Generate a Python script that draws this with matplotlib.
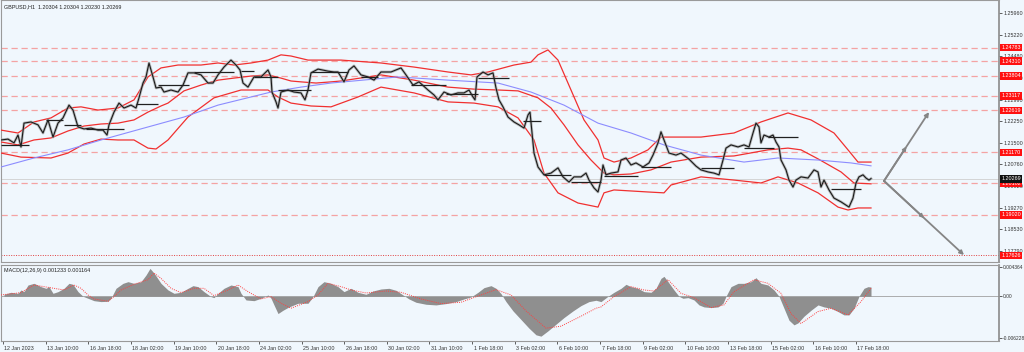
import matplotlib
matplotlib.use("Agg")
import matplotlib.pyplot as plt
import matplotlib.transforms as mtransforms
from matplotlib import font_manager
import numpy as np

_names = {f.name for f in font_manager.fontManager.ttflist}
if 'Liberation Sans Narrow' in _names:
    FONT, FS = 'Liberation Sans Narrow', 4.6
else:
    FONT, FS = 'Liberation Sans', 3.9
plt.rcParams['font.family'] = [FONT, 'DejaVu Sans']

# ---------------- data ----------------
symbol_title = "GBPUSD,H1  1.20304 1.20304 1.20230 1.20269"
macd_title = "MACD(12,26,9) 0.001233 0.001164"

x_labels = ["12 Jan 2023", "13 Jan 10:00", "16 Jan 18:00", "18 Jan 02:00", "19 Jan 10:00",
            "20 Jan 18:00", "24 Jan 02:00", "25 Jan 10:00", "26 Jan 18:00", "30 Jan 02:00",
            "31 Jan 10:00", "1 Feb 18:00", "3 Feb 02:00", "6 Feb 10:00", "7 Feb 18:00",
            "9 Feb 02:00", "10 Feb 10:00", "13 Feb 18:00", "15 Feb 02:00", "16 Feb 10:00",
            "17 Feb 18:00"]

price_ticks = [1.25960, 1.25220, 1.24480, 1.23730, 1.22990, 1.22250, 1.21500,
               1.20760, 1.20020, 1.19270, 1.18530, 1.17790]
level_prices = [1.24783, 1.24310, 1.23804, 1.23117, 1.22619, 1.21170, 1.20102, 1.19020]
bottom_level = 1.17626
last_price = 1.20269
macd_ticks = [0.004364, 0.0, -0.006228]
macd_tick_labels = ["0.004364", "0.00", "-0.006228"]

# price path (time position, close)
close_x = [0, 7, 13, 17, 20, 23, 30, 37, 42, 47, 52, 57, 62, 68, 72, 77, 83, 90, 97, 102,
           106, 108, 113, 118, 123, 130, 135, 138, 142, 145, 148, 152, 155, 160, 163, 170, 177,
           182, 187, 193, 200, 207, 212, 217, 223, 230, 235, 239, 242, 247, 253, 260, 267, 270,
           271, 275, 277, 280, 287, 293, 300, 304, 307, 310, 317, 327, 333, 337, 343, 348, 353,
           360, 367, 373, 380, 390, 400, 405, 412, 418, 427, 433, 437, 443, 450, 457, 463, 468,
           472, 474, 476, 482, 487, 492, 495, 498, 502, 507, 513, 518, 523, 527, 529, 531, 533,
           537, 543, 550, 557, 562, 568, 573, 580, 585, 588, 593, 597, 600, 602, 605, 610, 617,
           620, 625, 630, 635, 642, 648, 652, 657, 660, 663, 668, 675, 680, 688, 695, 700, 707,
           713, 718, 722, 725, 730, 737, 743, 748, 752, 755, 758, 760, 763, 768, 772, 775, 778,
           780, 785, 788, 792, 795, 800, 807, 813, 817, 820, 823, 828, 833, 840, 845, 848, 852,
           855, 858, 862, 865, 868, 870]
close_p = [1.2160, 1.2163, 1.2150, 1.2177, 1.2136, 1.2218, 1.2222, 1.2212, 1.2184, 1.2229,
           1.2170, 1.2218, 1.2236, 1.2280, 1.2263, 1.2205, 1.2198, 1.2201, 1.2194, 1.2194,
           1.2177, 1.2212, 1.2256, 1.2287, 1.2270, 1.2280, 1.2270, 1.2305, 1.2356, 1.2377,
           1.2425, 1.2377, 1.2339, 1.2342, 1.2325, 1.2332, 1.2325, 1.2349, 1.2391, 1.2391,
           1.2384, 1.2356, 1.2356, 1.2384, 1.2411, 1.2435, 1.2418, 1.2401, 1.2356, 1.2342,
           1.2377, 1.2377, 1.2401, 1.2377, 1.2325, 1.2291, 1.2270, 1.2325, 1.2332, 1.2325,
           1.2322, 1.2298, 1.2332, 1.2391, 1.2404, 1.2397, 1.2394, 1.2394, 1.2360, 1.2401,
           1.2415, 1.2384, 1.2377, 1.2366, 1.2394, 1.2394, 1.2408, 1.2384, 1.2349, 1.2360,
           1.2332, 1.2315, 1.2298, 1.2325, 1.2315, 1.2322, 1.2322, 1.2332, 1.2308, 1.2298,
           1.2377, 1.2394, 1.2384, 1.2391, 1.2339, 1.2298, 1.2274, 1.2239, 1.2222, 1.2212,
           1.2201, 1.2246, 1.2256, 1.2184, 1.2115, 1.2067, 1.2040, 1.2046, 1.2064, 1.2033,
           1.2015, 1.2033, 1.2033, 1.2046, 1.2022, 1.1995, 1.1981, 1.2022, 1.2074, 1.2040,
           1.2046, 1.2050, 1.2091, 1.2098, 1.2074, 1.2081, 1.2067, 1.2081, 1.2108, 1.2150,
           1.2188, 1.2160, 1.2115, 1.2108, 1.2115, 1.2094, 1.2070, 1.2057, 1.2050, 1.2046,
           1.2040, 1.2091, 1.2132, 1.2143, 1.2136, 1.2143, 1.2136, 1.2184, 1.2218, 1.2205,
           1.2150, 1.2177, 1.2170, 1.2177, 1.2153, 1.2136, 1.2091, 1.2057, 1.2022, 1.1998,
           1.2022, 1.2033, 1.2029, 1.2057, 1.2050, 1.1998, 1.2022, 1.1988, 1.1960, 1.1947,
           1.1936, 1.1929, 1.1960, 1.2012, 1.2033, 1.2040, 1.2029, 1.2022, 1.2027]

upper_x = [0, 17, 33, 50, 67, 80, 97, 117, 133, 147, 160, 177, 200, 217, 233, 250, 267, 280,
           290, 307, 323, 340, 380, 413, 447, 470, 487, 513, 530, 537, 547, 557, 570, 583, 597,
           603, 613, 630, 647, 660, 670, 700, 733, 760, 787, 810, 833, 847, 857, 870]
upper_p = [1.2194, 1.2184, 1.2222, 1.2236, 1.2270, 1.2274, 1.2263, 1.2270, 1.2298, 1.2377,
           1.2408, 1.2418, 1.2418, 1.2425, 1.2418, 1.2425, 1.2435, 1.2453, 1.2449, 1.2435,
           1.2435, 1.2435, 1.2425, 1.2411, 1.2394, 1.2384, 1.2394, 1.2418, 1.2428, 1.2453,
           1.2470, 1.2435, 1.2332, 1.2229, 1.2160, 1.2098, 1.2084, 1.2098, 1.2126, 1.2170,
           1.2170, 1.2170, 1.2184, 1.2222, 1.2253, 1.2229, 1.2184, 1.2126, 1.2084, 1.2084]

middle_x = [0, 17, 33, 50, 67, 83, 100, 117, 133, 147, 160, 167, 183, 200, 217, 233, 250, 267,
            280, 290, 300, 315, 330, 340, 380, 413, 447, 473, 497, 517, 537, 550, 563, 577, 590,
            603, 613, 630, 650, 670, 700, 733, 767, 787, 800, 817, 840, 853, 870]
middle_p = [1.2153, 1.2143, 1.2160, 1.2167, 1.2191, 1.2208, 1.2215, 1.2218, 1.2229, 1.2256,
            1.2277, 1.2287, 1.2329, 1.2349, 1.2366, 1.2373, 1.2380, 1.2384, 1.2373, 1.2363,
            1.2360, 1.2356, 1.2360, 1.2363, 1.2384, 1.2366, 1.2342, 1.2335, 1.2332, 1.2329,
            1.2305, 1.2270, 1.2212, 1.2143, 1.2091, 1.2046, 1.2040, 1.2043, 1.2057, 1.2084,
            1.2101, 1.2105, 1.2126, 1.2132, 1.2126, 1.2095, 1.2050, 1.2012, 1.2009]

lower_x = [0, 20, 50, 67, 83, 100, 117, 133, 147, 155, 167, 187, 213, 240, 267, 277, 290, 310,
           330, 357, 380, 413, 447, 473, 497, 517, 533, 543, 557, 577, 597, 603, 613, 647, 663,
           670, 700, 733, 760, 777, 797, 817, 837, 847, 857, 870]
lower_p = [1.2115, 1.2101, 1.2098, 1.2115, 1.2146, 1.2163, 1.2160, 1.2160, 1.2132, 1.2129,
           1.2160, 1.2239, 1.2305, 1.2332, 1.2332, 1.2308, 1.2287, 1.2277, 1.2274, 1.2308,
           1.2342, 1.2322, 1.2291, 1.2287, 1.2274, 1.2236, 1.2160, 1.2046, 1.1978, 1.1943,
           1.1929, 1.1978, 1.1988, 1.1981, 1.1978, 1.2005, 1.2033, 1.2022, 1.2012, 1.2033,
           1.2012, 1.1978, 1.1929, 1.1919, 1.1926, 1.1926]

ma_x = [0, 33, 67, 100, 143, 183, 217, 250, 270, 300, 330, 397, 447, 497, 530, 563, 597, 630,
        663, 700, 743, 777, 817, 850, 870]
ma_p = [1.2067, 1.2098, 1.2126, 1.2160, 1.2201, 1.2239, 1.2280, 1.2308, 1.2325, 1.2342,
        1.2356, 1.2377, 1.2366, 1.2356, 1.2325, 1.2280, 1.2218, 1.2184, 1.2143, 1.2108,
        1.2084, 1.2098, 1.2091, 1.2081, 1.2071]

seg_start = [0, 45, 63, 85, 135, 157, 193, 240, 253, 277, 310, 360, 410, 445, 477, 522, 543,
             570, 603, 640, 700, 743, 767, 830]
seg_end = [28, 62, 80, 123, 157, 188, 233, 253, 277, 310, 347, 377, 445, 477, 508, 540, 570,
           600, 637, 670, 733, 773, 797, 860]
seg_price = [1.2143, 1.2229, 1.2212, 1.2198, 1.2284, 1.2349, 1.2394, 1.2397, 1.2377, 1.2332,
             1.2394, 1.2377, 1.2349, 1.2318, 1.2373, 1.2225, 1.2040, 1.2015, 1.2036, 1.2067,
             1.2064, 1.2132, 1.2170, 1.1991]

proj_x = [883, 928, 963]
proj_p = [1.2019, 1.2256, 1.1764]

hist_x = [3, 10, 17, 20, 23, 27, 33, 40, 45, 48, 52, 57, 63, 68, 72, 77, 82, 87, 93, 100, 107,
          110, 115, 122, 127, 133, 140, 145, 149, 153, 160, 167, 173, 180, 187, 192, 197, 203,
          210, 213, 217, 223, 230, 237, 240, 245, 253, 260, 267, 270, 273, 277, 282, 288, 297,
          307, 312, 317, 323, 330, 337, 343, 350, 357, 365, 372, 380, 388, 395, 402, 408, 415,
          425, 435, 445, 455, 463, 470, 477, 483, 490, 495, 500, 505, 512, 520, 528, 535, 540,
          547, 555, 563, 572, 580, 588, 595, 600, 607, 613, 620, 625, 630, 637, 643, 650, 655,
          660, 663, 667, 673, 678, 682, 687, 693, 698, 703, 710, 717, 722, 725, 730, 737, 743,
          750, 755, 760, 767, 773, 778, 783, 788, 793, 797, 803, 810, 817, 823, 830, 837, 843,
          848, 853, 858, 863, 867, 870]
hist_v = [0.0003, 0.0006, 0.00045, 0.00095, 0.0007, 0.0017, 0.00195, 0.00145, 0.0012, 0.00145,
          0.00045, 0.0007, 0.0012, 0.00195, 0.0018, 0.0007, 0.0, -0.0003, -0.00066, -0.0008,
          -0.00075, -0.0003, 0.0012, 0.00195, 0.0022, 0.00195, 0.0022, 0.0032, 0.0042, 0.0035,
          0.00195, 0.00095, 0.00045, 0.0006, 0.0012, 0.0016, 0.00145, 0.0007, -0.00005,
          -0.0002, 0.00045, 0.0012, 0.0017, 0.00145, 0.00045, -0.00055, -0.00066, -0.0003,
          0.0002, -0.0003, -0.0013, -0.0026, -0.0021, -0.0016, -0.00105, -0.00105, -0.00005,
          0.00145, 0.0022, 0.00195, 0.00145, 0.0007, 0.0012, 0.0006, 0.0003, 0.0008, 0.0011,
          0.0012, 0.0009, 0.0002, -0.0004, -0.0009, -0.0012, -0.0013, -0.0011, -0.0008,
          -0.0004, -0.0001, 0.0006, 0.0013, 0.0016, 0.0012, 0.0004, -0.0008, -0.0022, -0.0035,
          -0.0048, -0.0058, -0.0060, -0.0052, -0.0042, -0.0032, -0.0022, -0.0014, -0.0008,
          -0.0006, -0.0008, 0.0, 0.0006, 0.0012, 0.0018, 0.00145, 0.0012, 0.0007, 0.0006,
          0.0012, 0.0027, 0.003, 0.0022, 0.00095, 0.0, -0.0003, -0.0002, -0.00055, -0.0013,
          -0.0016, -0.0017, -0.0016, -0.00105, 0.0, 0.00145, 0.00195, 0.00195, 0.0022, 0.0028,
          0.00195, 0.0017, 0.00095, 0.0, -0.0018, -0.0036, -0.0043, -0.004, -0.003, -0.0021,
          -0.0013, -0.0016, -0.0018, -0.0023, -0.0028, -0.0028, -0.0018, 0.0, 0.0012, 0.00145,
          0.0014]

signal_x = [0, 20, 33, 43, 53, 63, 73, 80, 87, 93, 107, 113, 120, 133, 147, 153, 160, 170,
            180, 193, 203, 213, 227, 237, 247, 260, 270, 280, 290, 307, 317, 327, 340, 350, 365,
            385, 400, 420, 440, 460, 480, 495, 510, 525, 545, 560, 580, 595, 600, 613, 630, 643,
            653, 667, 680, 693, 710, 723, 733, 753, 767, 780, 790, 800, 817, 830, 847, 860, 870]
signal_v = [0.0002, 0.00055, 0.0017, 0.00145, 0.0012, 0.00095, 0.0017, 0.0012, 0.0002,
            -0.0004, -0.00075, -0.00005, 0.00095, 0.0018, 0.0025, 0.0035, 0.0027, 0.0012,
            0.00055, 0.0012, 0.0012, 0.0001, 0.00095, 0.0017, 0.0007, -0.0004, -0.00005,
            -0.00105, -0.0018, -0.0008, 0.0002, 0.00195, 0.00145, 0.00095, 0.0005, 0.0008,
            0.0006, -0.0004, -0.0011, -0.0009, 0.0002, 0.0010, 0.0002, -0.0022, -0.0048,
            -0.0045, -0.0030, -0.0018, -0.0016, -0.00005, 0.00145, 0.00095, 0.0008, 0.0025,
            0.00045, -0.0002, -0.0017, -0.0013, 0.0007, 0.0025, 0.00195, 0.00045, -0.0026,
            -0.0041, -0.0023, -0.0018, -0.0028, -0.0008, 0.0012]

# ---------------- figure ----------------
W, H = 1024, 352
fig = plt.figure(figsize=(W / 100, H / 100), dpi=100)
BG = '#f0f7fd'
fig.patch.set_facecolor(BG)
GRID_RED = '#f4a3a3'
AX_GRAY = '#9a9a9a'
TXT = '#333333'

ax = fig.add_axes([1 / W, 1 - 262 / H, 998 / W, 262 / H])
mx = fig.add_axes([1 / W, 1 - 341 / H, 998 / W, 76 / H])

for a in (ax, mx):
    a.set_facecolor(BG)
    a.set_xlim(0, 998)
    for s in a.spines.values():
        s.set_color(AX_GRAY)
        s.set_linewidth(0.8)
    a.spines['right'].set_color('#8a8a8a')
    a.spines['right'].set_linewidth(1.2)

ax.set_ylim(1.17400, 1.26418)
mx.set_ylim(-0.00673, 0.00471)

# horizontal level lines
for lv in level_prices:
    ax.axhline(lv, color=GRID_RED, lw=0.9, ls=(0, (5, 3)), zorder=1)
ax.axhline(bottom_level, color='#e04040', lw=0.7, ls=(0, (1, 1.5)), zorder=1)
ax.axhline(last_price, color='#cfcfcf', lw=0.6, zorder=1)

# bands and MA
for bx, bp in ((upper_x, upper_p), (middle_x, middle_p), (lower_x, lower_p)):
    ax.plot(bx, bp, color='#f03030', lw=0.9, zorder=3)
ax.plot(ma_x, ma_p, color='#8c8cff', lw=0.8, zorder=3)

# price
ax.plot(close_x, close_p, color='#a0a0a0', lw=2.0, alpha=0.7, zorder=4)
ax.plot(close_x, close_p, color='#1a1a1a', lw=0.8, zorder=5)

# pivot segments
ax.hlines(seg_price, seg_start, seg_end, color='#202020', lw=0.9, zorder=6)

# projection arrows
for k in (1, 2):
    ax.annotate('', xy=(proj_x[k], proj_p[k]), xytext=(proj_x[0], proj_p[0]),
                arrowprops=dict(arrowstyle='-|>', color='#858585', lw=1.3,
                                mutation_scale=6, shrinkA=0, shrinkB=0), zorder=7)
    midx = (proj_x[0] + proj_x[k]) / 2
    midp = (proj_p[0] + proj_p[k]) / 2
    ax.annotate('', xy=(midx, midp), xytext=(proj_x[0], proj_p[0]),
                arrowprops=dict(arrowstyle='-|>', color='#858585', lw=1.3,
                                mutation_scale=5, shrinkA=0, shrinkB=0), zorder=7)

# right price axis
ax.yaxis.tick_right()
ax.set_yticks(price_ticks)
ax.set_yticklabels([f"{t:.5f}" for t in price_ticks])
ax.tick_params(axis='y', direction='out', length=2, width=0.6, labelsize=FS,
               pad=1.5, colors='#444444', labelcolor=TXT)
ax.set_xticks([])

trans = mtransforms.blended_transform_factory(ax.transAxes, ax.transData)
for lv in level_prices + [bottom_level]:
    ax.text(1.0022, lv, f"{lv:.5f}", transform=trans, va='center', ha='left', fontsize=FS,
            color='white', clip_on=False, zorder=10,
            bbox=dict(boxstyle='square,pad=0.25', fc='#ff1010', ec='none'))
ax.text(1.0022, last_price, f"{last_price:.5f}", transform=trans, va='center', ha='left',
        fontsize=FS, color='white', clip_on=False, zorder=10,
        bbox=dict(boxstyle='square,pad=0.25', fc='#111111', ec='none'))

ax.text(0.003, 0.985, symbol_title, transform=ax.transAxes, va='top', ha='left',
        fontsize=FS, color='#222222')

# MACD panel
mx.fill_between(hist_x, 0, hist_v, color='#8f8f8f', lw=0, zorder=2)
mx.axhline(0, color='#a0a0a0', lw=0.6, zorder=1)
mx.plot(signal_x, signal_v, color='#ff4040', lw=0.7, ls=(0, (1, 1.2)), zorder=3)
mx.yaxis.tick_right()
mx.set_yticks(macd_ticks)
mx.set_yticklabels(macd_tick_labels)
mx.tick_params(axis='y', direction='out', length=2, width=0.6, labelsize=FS - 0.4,
               pad=1.0, colors='#444444', labelcolor=TXT)
tick_pos = 2 + 42.65 * np.arange(len(x_labels))
mx.set_xticks(tick_pos)
mx.set_xticklabels(x_labels, ha='left')
mx.tick_params(axis='x', direction='out', length=2.5, width=0.6, labelsize=FS,
               pad=1.2, colors='#444444', labelcolor=TXT)
offset = mtransforms.ScaledTranslation(1.5 / 100, 0, fig.dpi_scale_trans)
for lab in mx.get_xticklabels():
    lab.set_transform(lab.get_transform() + offset)
mx.text(0.003, 0.96, macd_title, transform=mx.transAxes, va='top', ha='left',
        fontsize=FS, color='#222222')

fig.savefig('out.png', dpi=100, facecolor=fig.get_facecolor())
